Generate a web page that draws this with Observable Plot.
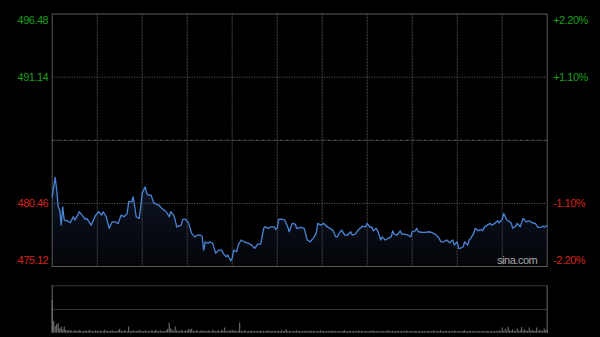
<!DOCTYPE html>
<html><head><meta charset="utf-8">
<script src="https://cdn.jsdelivr.net/npm/d3@7"></script>
<script src="https://cdn.jsdelivr.net/npm/@observablehq/plot@0.6"></script>
<style>
html,body{margin:0;padding:0;background:#000;width:600px;height:337px;overflow:hidden}
#c svg{display:block}
</style></head><body><div id="c"></div>
<script>
// minute of session (HK: 330 trading minutes) and price
const minutes = [0,2,3,4,5,6,7,8,10,12,14,15,17,18,20,22,23,26,27,29,31,33,34,36,38,40,42,44,46,48,50,51,53,54,56,58,59,60,62,63,64,66,67,68,71,73,76,78,79,81,82,83,86,87,89,91,93,95,97,99,
100,101,102,104,105,107,109,111,113,114,116,117,119,120,121,123,124,126,128,131,133,135,137,139,141,142,144,146,148,149,150,151,153,155,157,158,160,162,163,166,168,170,172,174,176,177,179,181,182,184,187,189,190,192,193,195,197,199,
200,202,204,207,209,210,212,213,214,216,217,219,220,222,224,226,227,228,230,232,233,235,237,239,240,242,243,244,247,249,251,253,256,258,259,261,263,265,267,268,270,271,272,274,275,277,278,279,281,282,284,286,287,288,290,292,293,295,297,298,
300,301,302,303,306,307,309,310,312,314,316,318,320,322,324,326,327,328,329,330];
const prices = [481.02,482.66,481.59,480.17,479.89,478.62,480.17,479.05,478.99,478.82,479.33,479.05,479.47,479.75,479.47,479.11,479.19,478.62,478.90,479.47,479.75,479.47,479.75,479.33,478.35,478.90,478.90,478.77,479.47,479.33,479.61,480.60,480.60,481.02,479.33,479.19,480.17,481.31,481.86,481.31,481.16,481.16,480.74,480.46,480.32,480.04,479.75,479.33,479.75,479.47,479.05,478.48,478.62,479.11,479.11,478.77,477.92,477.63,477.78,477.78,
477.63,476.51,477.21,477.08,477.21,477.08,476.23,476.51,476.51,476.23,475.94,476.09,475.60,475.81,476.51,476.37,476.93,477.36,477.21,477.08,476.93,476.65,477.02,477.02,478.35,478.48,478.35,478.48,478.48,478.26,478.35,479.11,479.13,479.05,478.48,478.06,478.77,478.71,478.35,478.43,478.35,477.36,477.21,477.50,477.92,478.77,478.62,478.77,478.62,478.43,478.20,477.63,477.63,478.06,478.20,477.78,477.78,478.06,
477.78,477.86,478.20,478.54,478.48,478.77,478.43,478.48,478.14,478.35,478.14,477.36,477.63,477.36,477.50,477.63,478.14,477.86,477.78,478.14,477.86,477.86,477.78,477.63,478.06,478.14,478.35,478.06,478.01,478.01,478.06,478.01,477.78,477.50,477.21,477.21,477.36,477.13,477.36,476.93,477.21,476.65,476.65,476.79,477.21,476.93,477.36,477.50,477.92,478.35,478.14,478.26,478.14,478.43,478.62,478.77,478.62,478.77,478.99,478.82,
479.11,479.61,479.33,479.05,478.82,478.35,478.54,478.77,478.48,479.19,478.90,478.99,478.82,478.77,478.43,478.43,478.54,478.43,478.54,478.54];
// per-minute volume (relative units, panel top = 100)
const volumes = [
69,25,14,18,20,9,13,7,13,6,5,4,6,4,3,5,4,3,6,4,3,4,5,3,4,6,3,4,3,5,
4,3,5,3,4,6,3,4,3,4,5,3,4,3,5,8,4,3,5,4,3,13,4,3,5,3,4,3,6,3,
4,3,5,3,4,3,5,4,3,6,4,3,5,3,4,3,5,8,21,9,6,4,13,5,4,3,6,4,3,5,
4,8,6,8,4,3,5,4,3,4,5,3,4,3,5,4,3,6,4,3,4,5,3,6,4,11,4,3,5,4,
6,4,5,3,4,21,4,3,5,4,3,4,3,5,3,4,3,4,3,5,3,4,3,4,5,3,4,3,4,3,
4,4,3,5,3,4,7,3,4,3,3,4,3,5,3,4,3,3,4,3,4,3,5,3,4,3,3,4,3,5,
3,4,3,3,4,3,5,3,4,3,3,4,3,3,4,5,3,3,4,3,3,4,3,3,5,3,4,3,3,4,
3,3,4,3,5,3,3,4,3,3,4,3,3,4,5,3,3,4,3,3,4,3,3,4,3,3,5,3,3,4,
3,3,4,3,3,4,3,3,4,3,3,4,3,3,5,3,3,4,3,5,3,3,4,3,3,4,3,3,5,3,
3,4,3,3,4,5,3,3,4,3,3,4,3,3,4,3,3,4,3,3,4,3,3,4,3,3,4,3,5,4,
11,4,8,4,12,5,4,7,4,4,9,4,5,12,4,7,4,4,11,4,6,4,4,11,4,6,4,4,9,5,
6];
const priceTicks = [496.48, 491.14, 480.46, 475.12];
const pctTicks = ["+2.20%", "+1.10%", "-1.10%", "-2.20%"];
const prevClose = 485.80;
const timeGrid = [30, 60, 90, 120, 150, 180, 210, 240, 270, 300];
const sessionMinutes = [0, 330];

const GREEN = "#1a9f1a", RED = "#d2251b";
const series = minutes.map((m, i) => ({m, p: prices[i]}));
const volData = volumes.map((v, i) => ({m: i, v}));

const fontStyle = {fontFamily: "'Liberation Sans', Arial, sans-serif", background: "#000", color: "#ccc", overflow: "visible"};
const labelDy = [6, 0, 0, -6];

const labelMarks = [];
priceTicks.forEach((t, i) => {
  const col = t > prevClose ? GREEN : RED;
  labelMarks.push(Plot.text([t], {y: d => d, text: d => d.toFixed(2), frameAnchor: "left", textAnchor: "end", dx: -4, dy: labelDy[i], fill: col, fontSize: 11}));
  labelMarks.push(Plot.text([pctTicks[i]], {y: () => t, text: d => d, frameAnchor: "right", textAnchor: "start", dx: 6, dy: labelDy[i], fill: col, fontSize: 11}));
});

const main = Plot.plot({
  width: 600, height: 270,
  marginLeft: 51.7, marginRight: 53.3, marginTop: 13.5, marginBottom: 4,
  x: {domain: sessionMinutes, axis: null},
  y: {domain: [priceTicks[3], priceTicks[0]], axis: null},
  style: fontStyle,
  marks: [
    Plot.areaY(series, {x: "m", y1: priceTicks[3], y2: "p", fill: "url(#pgrad)"}),
    Plot.ruleX(timeGrid, {stroke: "#464646", strokeDasharray: "2,1"}),
    Plot.ruleY([priceTicks[1], priceTicks[2]], {stroke: "#626262", strokeDasharray: "1,1.5"}),
    Plot.ruleY([prevClose], {stroke: "#5e5e5e", strokeDasharray: "3,1,1,1"}),
    Plot.frame({stroke: "#585858"}),
    Plot.line(series, {x: "m", y: "p", stroke: "#4a84d6", strokeWidth: 1.3}),
    ...labelMarks,
    Plot.text(["sina.com"], {text: d => d, frameAnchor: "bottom-right", textAnchor: "end", dx: -10, dy: -3, fill: "#a8a8a8", fontSize: 11})
  ]
});
const defs = d3.select(main).insert("defs", ":first-child");
const g = defs.append("linearGradient").attr("id", "pgrad").attr("x1", 0).attr("y1", 0).attr("x2", 0).attr("y2", 1);
g.append("stop").attr("offset", "0%").attr("stop-color", "#1a2a4a").attr("stop-opacity", 0.55);
g.append("stop").attr("offset", "100%").attr("stop-color", "#0a0f1a").attr("stop-opacity", 0.35);
d3.select(main).selectAll("text").attr("letter-spacing", "-0.5");

const vol = Plot.plot({
  width: 600, height: 67,
  marginLeft: 51.7, marginRight: 53.3, marginTop: 15.3, marginBottom: 4.3,
  x: {domain: sessionMinutes, axis: null},
  y: {domain: [0, 100], axis: null},
  style: fontStyle,
  marks: [
    Plot.ruleY([100, 50], {stroke: "#6a6a6a", strokeDasharray: "1,1"}),
    Plot.ruleX(sessionMinutes, {stroke: "#585858", strokeWidth: 1.2}),
    Plot.ruleX(volData, {x: "m", y1: 0, y2: "v", stroke: "#7a7a7a", strokeWidth: 1})
  ]
});

const c = document.getElementById("c");
c.appendChild(main);
c.appendChild(vol);
</script></body></html>
